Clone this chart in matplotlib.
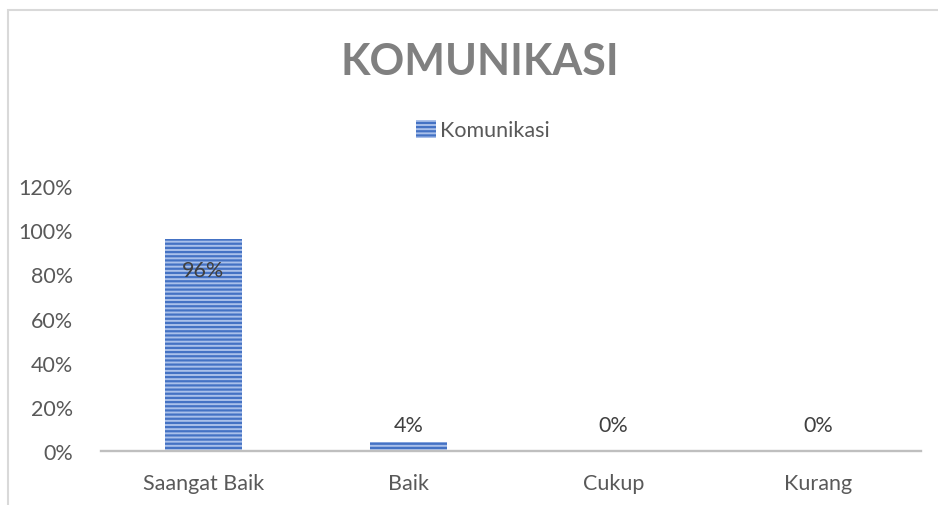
import matplotlib.pyplot as plt
from matplotlib.patches import Rectangle
from matplotlib.ticker import FuncFormatter

# data
categories = ['Saangat Baik', 'Baik', 'Cukup', 'Kurang']
values = [0.96, 0.04, 0.0, 0.0]
labels = ['96%', '4%', '0%', '0%']
series_name = 'Komunikasi'

plt.rcParams['font.family'] = ['Lato', 'DejaVu Sans']
plt.rcParams['hatch.linewidth'] = 1.6

fig = plt.figure(figsize=(9.38, 5.06), dpi=100)
ax = fig.add_axes([0.1077, 0.1067, 0.874, 0.5237])

# chart frame (light gray border like the Excel chart area)
fig.patches.append(Rectangle((8 / 938, -0.05), 1.2, (506 - 11) / 506 + 0.05,
                             transform=fig.transFigure, fill=False,
                             edgecolor='#d9d9d9', linewidth=1.5))

x = range(len(categories))
ax.bar(x, values, width=0.38, color='#a9c0ea', edgecolor='#4472c4',
       linewidth=0, hatch='----', label=series_name, zorder=2)

for xi, v, lab in zip(x, values, labels):
    ypos = v - 0.14 if v > 0.5 else 0.118
    ax.text(xi, ypos, lab, ha='center', va='center', fontsize=15.5, color='#404040')

ax.set_xlim(-0.5, len(categories) - 0.5)
ax.set_ylim(0, 1.2)
ax.set_yticks([0, 0.2, 0.4, 0.6, 0.8, 1.0, 1.2])
ax.yaxis.set_major_formatter(FuncFormatter(lambda v, p: f'{v*100:.0f}%'))
ax.set_xticks(list(x))
ax.set_xticklabels(categories)
ax.tick_params(axis='both', length=0, labelsize=15.5, labelcolor='#595959')
ax.tick_params(axis='y', pad=20)
ax.tick_params(axis='x', pad=16)

for s in ['top', 'right', 'left']:
    ax.spines[s].set_visible(False)
ax.spines['bottom'].set_color('#bfbfbf')
ax.spines['bottom'].set_linewidth(1.7)

fig.text(0.511, 0.878, 'KOMUNIKASI', ha='center', va='center', fontsize=31,
         fontweight='bold', color='#808080')

fig.legend(loc='center', bbox_to_anchor=(0.515, 0.741), frameon=False,
           fontsize=15.5, handlelength=0.9, handleheight=0.9, handletextpad=0.2,
           labelcolor='#595959')

fig.savefig('out.png', dpi=100)
